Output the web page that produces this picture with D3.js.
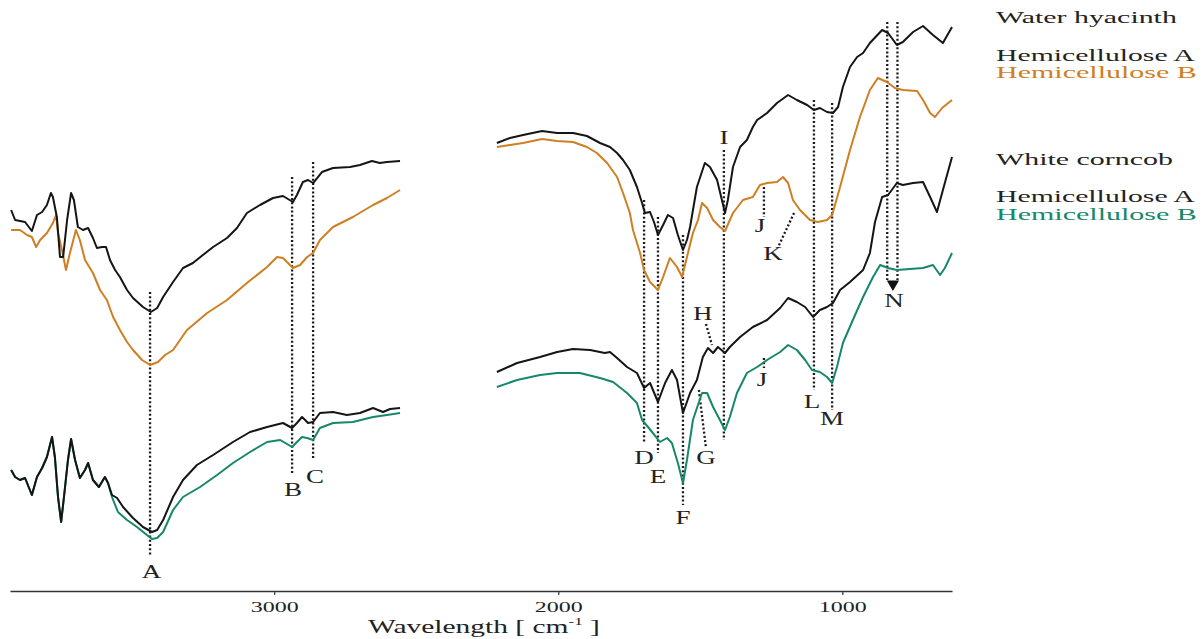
<!DOCTYPE html>
<html>
<head>
<meta charset="utf-8">
<script src="https://cdn.jsdelivr.net/npm/d3@7"></script>
<style>
  body { margin: 0; background: #fff; }
  svg { display: block; font-family: "Liberation Serif", "Times New Roman", serif; }
</style>
</head>
<body>
<svg id="chart" width="1204" height="639"></svg>
<script>
// FTIR spectra, [wavenumber cm-1, relative transmittance a.u.]
const whA_left = [[3926,38.0],[3912,37.0],[3877,36.8],[3853,35.9],[3835,37.5],[3817,37.8],[3800,38.5],[3786,39.7],[3779,39.3],[3765,37.3],[3754,33.3],[3743,33.3],[3729,37.0],[3715,39.7],[3705,39.0],[3691,36.3],[3673,36.0],[3655,36.2],[3638,35.2],[3624,34.2],[3606,34.3],[3592,34.3],[3578,33.0],[3560,32.0],[3543,31.3],[3518,30.0],[3497,29.2],[3462,28.3],[3434,27.8],[3412,28.2],[3391,29.3],[3356,30.8],[3321,32.2],[3286,32.7],[3251,33.5],[3215,34.3],[3166,35.2],[3131,36.2],[3096,37.7],[3050,38.5],[3004,39.2],[2969,39.4],[2934,38.8],[2920,39.5],[2899,40.8],[2881,41.0],[2863,40.7],[2832,41.8],[2793,42.2],[2733,42.3],[2698,42.5],[2656,42.9],[2628,42.7],[2603,42.8],[2557,42.9]];
const whB_left = [[3926,36.0],[3895,36.0],[3870,35.5],[3853,35.3],[3838,34.3],[3824,35.0],[3800,35.7],[3779,36.7],[3768,37.5],[3761,35.7],[3747,34.0],[3733,32.0],[3719,33.7],[3698,36.0],[3684,35.0],[3666,33.0],[3638,31.7],[3613,30.0],[3589,29.0],[3567,27.3],[3543,26.0],[3518,24.8],[3497,24.0],[3465,23.0],[3437,22.5],[3409,22.8],[3384,23.5],[3356,24.0],[3307,26.0],[3236,27.7],[3166,29.0],[3096,30.7],[3025,32.3],[2990,33.3],[2969,33.2],[2934,32.2],[2909,32.5],[2884,33.3],[2863,33.7],[2839,35.0],[2793,36.3],[2723,37.3],[2652,38.5],[2603,39.2],[2557,40.0]];
const wcA_left = [[3926,12.0],[3912,11.3],[3895,11.0],[3877,11.2],[3853,9.5],[3835,11.3],[3817,12.2],[3800,13.3],[3782,15.3],[3772,13.3],[3761,9.3],[3750,6.8],[3740,9.3],[3726,13.0],[3715,15.1],[3701,13.0],[3684,11.2],[3666,12.0],[3655,12.7],[3638,11.0],[3617,10.3],[3596,11.3],[3585,10.7],[3571,9.5],[3553,9.2],[3532,8.3],[3497,7.2],[3462,6.3],[3430,5.8],[3412,6.0],[3391,7.0],[3356,9.3],[3321,11.0],[3272,12.5],[3215,13.5],[3145,14.8],[3085,15.8],[3025,16.3],[2969,16.7],[2937,16.2],[2920,16.7],[2902,17.3],[2891,17.0],[2881,16.7],[2863,16.8],[2839,17.7],[2793,17.8],[2744,17.5],[2698,17.7],[2652,18.2],[2617,17.8],[2592,18.1],[2557,18.2]];
const wcB_left = [[3926,12.0],[3912,11.3],[3895,11.0],[3877,11.2],[3853,9.5],[3835,11.3],[3817,12.2],[3800,13.3],[3782,15.3],[3772,13.3],[3761,9.3],[3750,6.8],[3740,9.3],[3726,13.0],[3715,15.1],[3701,13.0],[3684,11.2],[3666,12.0],[3655,12.7],[3638,11.0],[3617,10.3],[3596,11.3],[3585,10.7],[3571,9.3],[3550,7.8],[3518,7.0],[3483,6.3],[3448,5.5],[3430,5.1],[3412,5.2],[3391,5.8],[3356,8.0],[3321,9.3],[3261,10.3],[3201,11.5],[3145,12.7],[3085,13.8],[3025,14.8],[2979,15.0],[2937,14.3],[2920,14.8],[2902,15.3],[2884,15.2],[2863,15.0],[2839,16.2],[2793,16.7],[2723,16.8],[2652,17.3],[2603,17.5],[2557,17.7]];

const whA_right = [[2216,44.7],[2170,45.2],[2124,45.5],[2057,45.9],[2004,45.7],[1948,45.7],[1899,45.4],[1853,44.7],[1818,44.3],[1793,43.7],[1772,43.0],[1748,42.0],[1723,40.3],[1705,38.7],[1695,37.7],[1677,37.8],[1663,36.8],[1649,35.5],[1631,36.5],[1614,37.5],[1596,37.2],[1579,35.5],[1561,34.0],[1547,35.0],[1536,36.3],[1512,40.3],[1484,42.7],[1466,42.3],[1441,41.0],[1424,39.0],[1413,37.7],[1403,39.0],[1385,42.3],[1360,44.3],[1336,45.0],[1315,46.3],[1300,47.0],[1265,47.7],[1230,48.7],[1191,49.5],[1160,49.0],[1124,48.5],[1100,48.0],[1079,48.2],[1054,47.8],[1033,47.7],[1015,48.3],[998,50.3],[973,52.3],[948,53.3],[927,53.7],[903,54.7],[860,56.0],[839,55.7],[808,54.5],[787,54.8],[751,55.8],[716,56.4],[681,55.5],[646,54.7],[614,56.3]];
const whB_right = [[2216,44.3],[2170,44.5],[2124,44.7],[2057,45.1],[2004,44.9],[1948,44.8],[1899,44.3],[1864,43.7],[1828,42.7],[1793,41.3],[1772,39.7],[1748,37.7],[1737,36.0],[1712,33.7],[1698,32.0],[1677,30.8],[1649,30.0],[1631,31.3],[1607,33.2],[1582,32.3],[1564,31.3],[1547,33.3],[1526,35.7],[1508,37.0],[1494,38.7],[1476,38.2],[1455,37.0],[1431,36.3],[1413,35.9],[1385,37.7],[1350,39.0],[1315,39.3],[1290,40.5],[1265,40.7],[1230,40.8],[1209,41.3],[1191,40.7],[1174,39.0],[1149,38.0],[1114,37.0],[1086,36.8],[1054,37.0],[1036,37.5],[1008,40.3],[973,44.0],[938,47.3],[903,50.0],[875,51.2],[843,50.8],[815,50.2],[787,50.0],[737,49.9],[716,49.0],[691,47.7],[674,47.3],[649,48.2],[614,49.0]];
const wcA_right = [[2216,21.8],[2145,22.7],[2064,23.3],[2004,23.8],[1948,24.1],[1888,24.0],[1836,23.7],[1818,23.8],[1793,23.2],[1758,22.3],[1723,21.7],[1698,20.2],[1677,20.7],[1649,18.8],[1624,20.7],[1600,22.0],[1582,21.0],[1561,17.7],[1536,19.7],[1512,21.0],[1491,23.3],[1473,24.2],[1455,23.7],[1438,24.3],[1413,23.7],[1396,24.3],[1360,25.3],[1315,26.3],[1265,27.0],[1219,28.2],[1191,29.2],[1160,28.8],[1131,28.3],[1103,27.3],[1079,28.0],[1054,28.3],[1033,28.7],[1008,30.0],[973,30.8],[927,32.0],[903,33.7],[885,36.8],[860,39.3],[839,39.5],[808,40.7],[787,40.5],[751,40.7],[716,40.8],[691,39.3],[667,37.8],[646,40.0],[614,43.3]];
const wcB_right = [[2216,20.3],[2145,21.0],[2064,21.5],[2004,21.7],[1924,21.7],[1853,21.2],[1807,20.8],[1758,19.7],[1723,18.7],[1705,17.0],[1684,16.3],[1667,15.7],[1642,14.8],[1617,15.2],[1600,14.7],[1579,12.7],[1561,10.7],[1547,13.0],[1526,17.0],[1494,19.7],[1476,19.7],[1455,18.3],[1431,17.0],[1413,16.0],[1396,17.3],[1371,19.7],[1336,21.7],[1300,22.3],[1265,23.0],[1219,23.8],[1191,24.5],[1160,24.0],[1131,23.0],[1107,22.0],[1079,21.8],[1054,21.3],[1036,20.7],[1019,22.3],[998,24.7],[963,27.0],[927,29.3],[892,31.3],[867,32.5],[839,32.2],[808,32.0],[762,32.1],[716,32.2],[681,32.5],[656,31.5],[639,32.2],[614,33.7]];

// band guides: [wn1, v1, wn2, v2]
const guides = [
  [3437,29.8,3437,3.5],[2937,41.3,2937,11.7],[2863,42.8,2863,13.2],
  [1698,39.0,1698,14.8],[1649,37.3,1649,13.7],[1561,35.5,1561,8.5],
  [1505,20.0,1480,14.2],[1480,26.6,1459,24.5],[1417,44.0,1417,15.0],
  [1276,40.3,1276,37.3],[1170,37.7,1226,34.3],[1276,23.2,1276,22.2],
  [1100,49.0,1100,20.0],[1036,48.7,1036,18.0],[842,56.8,842,31.0],[806,56.8,806,31.0]
];
// band labels: [text, wn, v]
const bandLabels = [
  ['A',3432,1.2],['B',2934,9.4],['C',2856,10.7],['D',1698,12.6],['E',1649,10.7],
  ['F',1561,6.6],['G',1480,12.6],['H',1491,27.0],['I',1417,44.6],['J',1290,35.8],
  ['K',1244,33.0],['J',1283,20.4],['L',1107,18.2],['M',1036,16.5],['N',818,28.3]
];
const arrowN = [822, 30.6];

const xTicks = [3000, 2000, 1000];
const legendGroups = ['Water hyacinth', 'White corncob'];
const legendItems = ['Hemicellulose A', 'Hemicellulose B'];

const BLACK = '#151515', ORANGE = '#cf7f22', GREEN = '#17876b';

const svg = d3.select('#chart');
const x = d3.scaleLinear().domain([3930, 614]).range([10, 952]);
const y = d3.scaleLinear().domain([0, 58]).range([590, 10]);

const line = d3.line().x(d => x(d[0])).y(d => y(d[1]));

const series = [
  { color: GREEN, segs: [wcB_left, wcB_right] },
  { color: BLACK, segs: [wcA_left, wcA_right] },
  { color: ORANGE, segs: [whB_left, whB_right] },
  { color: BLACK, segs: [whA_left, whA_right] },
];

// dotted guides first, under the spectra
svg.append('g')
  .selectAll('line')
  .data(guides)
  .join('line')
  .attr('x1', d => x(d[0])).attr('y1', d => y(d[1]))
  .attr('x2', d => x(d[2])).attr('y2', d => y(d[3]))
  .attr('stroke', '#1a1a1a')
  .attr('stroke-width', 2.3)
  .attr('stroke-dasharray', '2 2.2');

const curves = svg.append('g').attr('fill', 'none').attr('stroke-linejoin', 'round');
series.forEach(s => {
  s.segs.forEach(seg => {
    curves.append('path')
      .attr('d', line(seg))
      .attr('stroke', s.color)
      .attr('stroke-width', 2);
  });
});

// arrow at N
svg.append('path')
  .attr('d', d3.symbol(d3.symbolTriangle, 65)())
  .attr('transform', `translate(${x(arrowN[0])},${y(arrowN[1])}) rotate(180)`)
  .attr('fill', '#111');

// stretch text horizontally (source figure is wide)
function stretch(sel, sx) {
  sel.each(function () {
    const t = d3.select(this);
    const tx = +t.attr('x'), ty = +t.attr('y');
    t.attr('x', 0).attr('y', 0)
      .attr('transform', `translate(${tx},${ty}) scale(${sx},1)`);
  });
}
function fitWidth(t, width) {
  const w = t.node().getComputedTextLength();
  const tx = +t.attr('x'), ty = +t.attr('y');
  t.attr('x', 0).attr('y', 0)
    .attr('transform', `translate(${tx},${ty}) scale(${width / w},1)`);
}

const letters = svg.append('g')
  .selectAll('text')
  .data(bandLabels)
  .join('text')
  .attr('x', d => x(d[1]))
  .attr('y', d => y(d[2]))
  .attr('text-anchor', 'middle')
  .attr('font-size', 18)
  .attr('fill', '#222')
  .text(d => d[0]);
stretch(letters, 1.5);

// x axis
const axis = svg.append('g')
  .attr('transform', 'translate(0,591)')
  .call(d3.axisBottom(x).tickValues(xTicks).tickSize(4).tickSizeOuter(0).tickFormat(d3.format('d')));
axis.select('.domain').attr('stroke', '#333').attr('stroke-width', 1.6);
axis.selectAll('.tick line').attr('stroke', '#333').attr('stroke-width', 1.2);
axis.selectAll('.tick text')
  .attr('y', 21).attr('dy', 0)
  .attr('font-size', 15)
  .attr('font-family', '"Liberation Serif", serif')
  .attr('fill', '#222')
  .attr('transform', 'scale(1.6,1)');

const xlab = svg.append('text')
  .attr('x', 368).attr('y', 633)
  .attr('font-size', 19)
  .attr('fill', '#222');
xlab.append('tspan').text('Wavelength [ cm');
xlab.append('tspan').attr('font-size', 11).attr('dy', -8).text('-1');
xlab.append('tspan').attr('dy', 8).text(' ]');
fitWidth(xlab, 232);

// legend
const legend = svg.append('g').attr('font-size', 17.5);
const legendRows = [
  { text: legendGroups[0], color: '#222', y: 23, w: 181 },
  { text: legendItems[0], color: '#222', y: 61, w: 199 },
  { text: legendItems[1], color: ORANGE, y: 78, w: 201 },
  { text: legendGroups[1], color: '#222', y: 165, w: 177 },
  { text: legendItems[0], color: '#222', y: 202, w: 199 },
  { text: legendItems[1], color: GREEN, y: 220, w: 201 },
];
legendRows.forEach(r => {
  const t = legend.append('text')
    .attr('x', 996).attr('y', r.y)
    .attr('fill', r.color)
    .text(r.text);
  fitWidth(t, r.w);
});
</script>
</body>
</html>
